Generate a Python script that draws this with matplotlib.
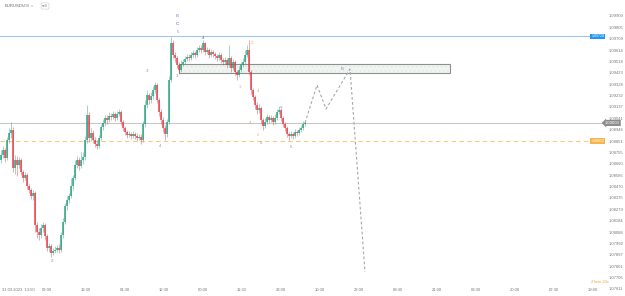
import numpy as np
import matplotlib
matplotlib.use("Agg")
import matplotlib.pyplot as plt
from matplotlib.patches import Rectangle
from matplotlib.transforms import blended_transform_factory

plt.rcParams['font.family'] = ['Liberation Sans', 'DejaVu Sans']
plt.rcParams['hatch.linewidth'] = 0.4

# EURUSD M30 candles
first_open = 1.08692
closes = [
    1.08734, 1.08776, 1.08709, 1.08860, 1.08919, 1.08944, 1.08625, 1.08692, 1.08650, 1.08692,
    1.08592, 1.08541, 1.08567, 1.08474, 1.08441, 1.08391, 1.08416, 1.08147, 1.08089, 1.08064,
    1.08122, 1.08147, 1.08055, 1.07954, 1.07971, 1.07912, 1.07929, 1.07938, 1.07954, 1.07938,
    1.08064, 1.08173, 1.08307, 1.08357, 1.08391, 1.08474, 1.08541, 1.08650, 1.08692, 1.08642,
    1.08692, 1.08718, 1.08860, 1.09070, 1.08877, 1.08919, 1.08860, 1.08827, 1.08810, 1.08877,
    1.08969, 1.09003, 1.09045, 1.09028, 1.09061, 1.09053, 1.09078, 1.09045, 1.09078, 1.09095,
    1.09011, 1.08961, 1.08927, 1.08902, 1.08910, 1.08894, 1.08910, 1.08894, 1.08877, 1.08885,
    1.08860, 1.08994, 1.09154, 1.09237, 1.09195, 1.09229, 1.09279, 1.09321, 1.09195, 1.09095,
    1.09028, 1.08961, 1.08910, 1.09011, 1.09363, 1.09673, 1.09573, 1.09548, 1.09489, 1.09447,
    1.09497, 1.09514, 1.09539, 1.09556, 1.09548, 1.09573, 1.09590, 1.09573, 1.09615, 1.09632,
    1.09615, 1.09673, 1.09598, 1.09615, 1.09573, 1.09598, 1.09581, 1.09564, 1.09548, 1.09573,
    1.09531, 1.09514, 1.09531, 1.09489, 1.09548, 1.09464, 1.09514, 1.09430, 1.09405, 1.09447,
    1.09489, 1.09514, 1.09573, 1.09615, 1.09430, 1.09279, 1.09221, 1.09154, 1.09112, 1.09128,
    1.09028, 1.08977, 1.09011, 1.09053, 1.09028, 1.09045, 1.09011, 1.09045, 1.09095, 1.09112,
    1.09045, 1.08994, 1.08961, 1.08910, 1.08894, 1.08910, 1.08894, 1.08927, 1.08919, 1.08944,
    1.08961, 1.08994, 1.09003,
]
highs = [
    1.08776, 1.08810, 1.08793, 1.08885, 1.08961, 1.09011, 1.08969, 1.08734, 1.08726, 1.08718,
    1.08709, 1.08609, 1.08592, 1.08583, 1.08491, 1.08458, 1.08441, 1.08432, 1.08173, 1.08122,
    1.08156, 1.08173, 1.08164, 1.08072, 1.07996, 1.07988, 1.07954, 1.07971, 1.07979, 1.07988,
    1.08089, 1.08206, 1.08332, 1.08391, 1.08416, 1.08541, 1.08567, 1.08692, 1.08726, 1.08718,
    1.08759, 1.08759, 1.08894, 1.09154, 1.09095, 1.08961, 1.08944, 1.08885, 1.08860, 1.08902,
    1.08994, 1.09036, 1.09070, 1.09070, 1.09095, 1.09086, 1.09103, 1.09095, 1.09103, 1.09120,
    1.09112, 1.09028, 1.08977, 1.08944, 1.08936, 1.08927, 1.08936, 1.08927, 1.08919, 1.08910,
    1.08910, 1.09019, 1.09195, 1.09279, 1.09254, 1.09263, 1.09313, 1.09347, 1.09338, 1.09212,
    1.09120, 1.09053, 1.08986, 1.09036, 1.09397, 1.09724, 1.09699, 1.09598, 1.09564, 1.09514,
    1.09531, 1.09539, 1.09564, 1.09581, 1.09581, 1.09598, 1.09615, 1.09606, 1.09640, 1.09657,
    1.09657, 1.09699, 1.09682, 1.09640, 1.09632, 1.09623, 1.09615, 1.09598, 1.09581, 1.09598,
    1.09590, 1.09548, 1.09556, 1.09548, 1.09657, 1.09564, 1.09539, 1.09531, 1.09447, 1.09481,
    1.09514, 1.09548, 1.09615, 1.09657, 1.09699, 1.09447, 1.09296, 1.09237, 1.09179, 1.09162,
    1.09145, 1.09045, 1.09045, 1.09078, 1.09070, 1.09070, 1.09061, 1.09078, 1.09120, 1.09145,
    1.09128, 1.09061, 1.09011, 1.08977, 1.08927, 1.08936, 1.08927, 1.08952, 1.08944, 1.08969,
    1.08986, 1.09019, 1.09028,
]
lows = [
    1.08667, 1.08709, 1.08676, 1.08692, 1.08835, 1.08877, 1.08592, 1.08575, 1.08558, 1.08625,
    1.08567, 1.08508, 1.08525, 1.08449, 1.08416, 1.08365, 1.08357, 1.08089, 1.08038, 1.08022,
    1.08038, 1.08089, 1.08022, 1.07929, 1.07921, 1.07879, 1.07896, 1.07912, 1.07921, 1.07912,
    1.07921, 1.08038, 1.08156, 1.08273, 1.08332, 1.08374, 1.08441, 1.08525, 1.08625, 1.08609,
    1.08625, 1.08659, 1.08692, 1.08835, 1.08843, 1.08852, 1.08835, 1.08801, 1.08785, 1.08793,
    1.08860, 1.08944, 1.08977, 1.08994, 1.09011, 1.09028, 1.09036, 1.09019, 1.09028, 1.09061,
    1.08986, 1.08936, 1.08902, 1.08877, 1.08885, 1.08868, 1.08877, 1.08868, 1.08852, 1.08860,
    1.08827, 1.08843, 1.08969, 1.09128, 1.09162, 1.09170, 1.09204, 1.09254, 1.09170, 1.09061,
    1.08994, 1.08927, 1.08860, 1.08885, 1.08994, 1.09347, 1.09548, 1.09514, 1.09464, 1.09413,
    1.09430, 1.09481, 1.09497, 1.09523, 1.09523, 1.09531, 1.09556, 1.09548, 1.09556, 1.09598,
    1.09590, 1.09598, 1.09573, 1.09581, 1.09548, 1.09556, 1.09556, 1.09539, 1.09523, 1.09531,
    1.09506, 1.09489, 1.09497, 1.09464, 1.09472, 1.09430, 1.09447, 1.09405, 1.09363, 1.09388,
    1.09430, 1.09472, 1.09497, 1.09556, 1.09405, 1.09246, 1.09195, 1.09120, 1.09078, 1.09086,
    1.08994, 1.08944, 1.08961, 1.08994, 1.09003, 1.09011, 1.08986, 1.08994, 1.09028, 1.09078,
    1.09019, 1.08969, 1.08936, 1.08885, 1.08860, 1.08877, 1.08868, 1.08877, 1.08894, 1.08902,
    1.08927, 1.08944, 1.08977,
]
opens = [first_open] + closes[:-1]

price_ticks = [1.07611, 1.07706, 1.07801, 1.07897, 1.07992, 1.08088, 1.08184, 1.08279,
               1.08375, 1.08470, 1.08566, 1.08660, 1.08755, 1.08851, 1.08946, 1.09041,
               1.09137, 1.09232, 1.09328, 1.09423, 1.09518, 1.09614, 1.09709, 1.09805,
               1.09900]
time_labels = ["02:00", "13:30", "01:30", "12:30", "00:00", "11:30", "23:00", "10:30",
               "22:00", "09:30", "21:00", "08:30", "20:00", "07:30", "19:00"]
first_label = "31.03.2023  13:50"

# projected path (bar index, price)
proj_x = [152, 158, 162.5, 174.5, 182]
proj_y = [1.09003, 1.09321, 1.09120, 1.09455, 1.07753]

# resistance zone
zone_x0, zone_x1 = 89, 224.5
zone_lo, zone_hi = 1.09422, 1.09497

blue_level = 1.09728
last_price = 1.09003
orange_level = 1.08852

# wave counts: text, bar index, price, colour
waves = [
    ("B", 88, 1.09900, "#7b7bd0"), ("C", 88, 1.09833, "#555570"), ("5", 88.5, 1.09766, "#8a8ab0"),
    ("3", 73, 1.09439, "#8a8ab0"), ("4", 79.5, 1.08810, "#9a9ac0"), ("2", 25.5, 1.07846, "#8a8ab0"),
    ("4", 101, 1.09715, "#6a6a90"), ("1", 88, 1.09397, "#8a8aa0"),
    ("2", 125.5, 1.09673, "#f0a860"), ("3", 119.5, 1.09305, "#f0b070"), ("4", 128.5, 1.09271, "#f0b070"),
    ("4", 124.5, 1.09003, "#f0a860"), ("5", 128.5, 1.08902, "#f0b070"),
    ("5", 130, 1.08835, "#8a8ab0"), ("a", 140, 1.09137, "#9a9ac8"), ("5", 145, 1.08801, "#8a8ab0"),
]

fig = plt.figure(figsize=(6.25, 2.96), dpi=100)
ax = fig.add_axes([0, 0, 605 / 625, 1])
ax.set_xlim(-0.5, 302)
ax.set_ylim(1.07552, 1.10034)

x = np.arange(len(closes))
o = np.array(opens)
c = np.array(closes)
cols = np.where(c >= o, "#1f9c76", "#e5333f")
ax.vlines(x, lows, highs, colors=cols, lw=0.5, alpha=0.6, zorder=3)
ax.bar(x, np.maximum(np.abs(c - o), 0.00003), bottom=np.minimum(o, c), width=0.8,
       color=cols, alpha=0.7, linewidth=0, zorder=3)

ax.axhline(blue_level, color="#9cc8f0", lw=0.8, zorder=2)
ax.axhline(last_price, color="#c8c8c8", lw=0.8, zorder=2)
ax.axhline(orange_level, color="#f5a52a", lw=0.8, ls=(0, (4, 3)), alpha=0.6, zorder=2)

# zone: faint dotted fill, then a grey frame on top
ax.add_patch(Rectangle((zone_x0, zone_lo), zone_x1 - zone_x0, zone_hi - zone_lo,
                       facecolor="#f1f5f2", edgecolor="#dfe5e0", lw=0, hatch="....",
                       zorder=2))
ax.add_patch(Rectangle((zone_x0, zone_lo), zone_x1 - zone_x0, zone_hi - zone_lo,
                       facecolor="none", edgecolor="#8c9090", lw=0.8, zorder=2))
ax.text((zone_x0 + zone_x1) / 2 + 14, (zone_lo + zone_hi) / 2, "B", fontsize=3.2,
        color="#8888aa", ha="center", va="center", zorder=4)

ax.plot(proj_x, proj_y, color="#a8a8a8", lw=0.8, ls=(0, (2.5, 2)), zorder=4)

for t, xi, yi, col in waves:
    ax.text(xi, yi, t, fontsize=3.2, color=col, ha="center", va="center", zorder=5)

# axes styling
for s in ax.spines.values():
    s.set_visible(False)
ax.yaxis.tick_right()
ax.set_yticks(price_ticks)
ax.set_yticklabels(["%.5f" % p for p in price_ticks])
ax.tick_params(axis="y", length=0, pad=2.5, labelsize=3.0, labelcolor="#777777")
tick_pos = [0.5] + list(23 + 19.5 * np.arange(len(time_labels)))
ax.set_xticks(tick_pos)
ax.set_xticklabels([first_label] + time_labels)
ax.tick_params(axis="x", length=0, direction="in", pad=-6, labelsize=3.0,
               labelcolor="#777777")
ax.get_xticklabels()[0].set_horizontalalignment("left")

tr = blended_transform_factory(ax.transAxes, ax.transData)
ax.text(0.999, blue_level, "%.5f" % blue_level, transform=tr, ha="right", va="center",
        fontsize=2.6, color="white", zorder=6,
        bbox=dict(boxstyle="square,pad=0.25", fc="#2196f3", ec="none"))
ax.text(0.999, orange_level, "%.5f" % orange_level, transform=tr, ha="right", va="center",
        fontsize=2.6, color="white", zorder=6,
        bbox=dict(boxstyle="square,pad=0.25", fc="#f7b44a", ec="none"))
ax.text(1.0, last_price, "%.5f" % last_price, transform=tr, ha="left", va="center",
        fontsize=3.0, color="white", zorder=6, clip_on=False,
        bbox=dict(boxstyle="larrow,pad=0.25", fc="#8c8c8c", ec="none"))

fig.text(5 / 625, 1 - 6 / 296, "EURUSD", fontsize=3, color="#666666", va="center")
fig.text(22 / 625, 1 - 6 / 296, "M30  \u02c5", fontsize=2.6, color="#888888", va="center")
fig.text(45 / 625, 1 - 6 / 296, "sell", fontsize=2.6, color="#777777", va="center",
         ha="center", bbox=dict(boxstyle="round,pad=0.3", fc="white", ec="#cccccc", lw=0.4))
fig.text(600 / 625, 1 - 282 / 296, "27min 43s", fontsize=2.8, color="#f0a040",
         ha="center", va="center")

fig.savefig("out.png", dpi=100)
